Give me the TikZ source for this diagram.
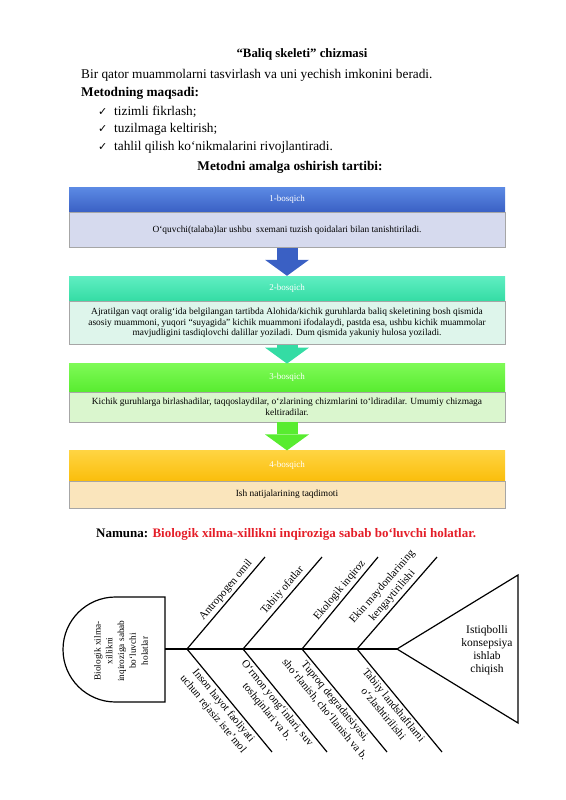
\documentclass[tikz,border=0pt]{standalone}
\usepackage{fontspec}
\setmainfont{Liberation Serif}
\newfontfamily\symfont{DejaVu Sans}
\usepackage{xcolor}
\definecolor{blueA}{RGB}{92,138,228}
\definecolor{blueB}{RGB}{58,96,196}
\definecolor{blueC}{RGB}{214,218,238}
\definecolor{tealA}{RGB}{96,238,194}
\definecolor{tealB}{RGB}{52,220,164}
\definecolor{tealC}{RGB}{222,245,235}
\definecolor{greenA}{RGB}{126,250,86}
\definecolor{greenB}{RGB}{88,236,48}
\definecolor{greenC}{RGB}{218,246,206}
\definecolor{goldA}{RGB}{255,212,66}
\definecolor{goldB}{RGB}{250,190,12}
\definecolor{goldC}{RGB}{250,229,188}
\definecolor{samplered}{RGB}{228,30,40}
\usepackage{tikz}
\usetikzlibrary{positioning}
\usetikzlibrary{arrows.meta}
\tikzset{head node/.style={rectangle,minimum width=436pt,inner sep=0pt,text=white,font=\fontsize{9}{10}\selectfont},
  body node/.style={rectangle,draw=gray!70,minimum width=436pt,inner sep=0pt,align=center,font=\fontsize{9.4}{10.8}\selectfont},}

\begin{document}
\begin{tikzpicture}[x=1pt,y=-1pt,
    step arrow/.style={line width=21pt,-{Triangle[width=44pt 0,length=16pt 0,line width=0pt 0 0]}},
    bone/.style={line width=1.2pt,line join=miter},
    bone label/.style={font=\fontsize{11}{13.4}\selectfont,align=center,sloped,inner sep=2.5pt},
    list item/.style={anchor=west,inner sep=0pt,font=\fontsize{13.3}{15}\selectfont}]
    \useasboundingbox (0,0) rectangle (565,800);

    % matn qismi
    \node[font=\bfseries\fontsize{12.8}{14}\selectfont] (title) at (302,54) {“Baliq skeleti” chizmasi};
    \node[list item] (intro) at (81,75) {Bir qator muammolarni tasvirlash va uni yechish imkonini beradi.};
    \node[list item,font=\bfseries\fontsize{13.3}{15}\selectfont] (aim) at (81,93) {Metodning maqsadi:};
    \node[list item,font=\symfont\fontsize{11}{12}\selectfont] (tick1) at (98,112) {✓};
    \node[list item] (item1) at (114,112) {tizimli fikrlash;};
    \node[list item,font=\symfont\fontsize{11}{12}\selectfont] (tick2) at (98,129) {✓};
    \node[list item] (item2) at (114,129) {tuzilmaga keltirish;};
    \node[list item,font=\symfont\fontsize{11}{12}\selectfont] (tick3) at (98,147) {✓};
    \node[list item] (item3) at (114,147) {tahlil qilish ko‘nikmalarini rivojlantiradi.};
    \node[font=\bfseries\fontsize{13.3}{15}\selectfont] (order) at (290,167) {Metodni amalga oshirish tartibi:};

    % bosqichlar
    \node[head node,anchor=north,minimum height=25pt,top color=blueA,bottom color=blueB] (h1) at (287,187) {1-bosqich};
    \node[body node,minimum height=35pt,fill=blueC] (b1) [below=0pt of h1] {O‘quvchi(talaba)lar ushbu\ \ sxemani tuzish qoidalari bilan tanishtiriladi.};
    \node[head node,minimum height=25pt,top color=tealA,bottom color=tealB] (h2) [below=28pt of b1] {2-bosqich};
    \node[body node,minimum height=43pt,fill=tealC] (b2) [below=0pt of h2] {Ajratilgan vaqt oralig‘ida belgilangan tartibda Alohida/kichik guruhlarda baliq skeletining bosh qismida\\
      asosiy muammoni, yuqori “suyagida” kichik muammoni ifodalaydi, pastda esa, ushbu kichik muammolar\\
      mavjudligini tasdiqlovchi dalillar yoziladi. Dum qismida yakuniy hulosa yoziladi.};
    \node[head node,minimum height=28pt,top color=greenA,bottom color=greenB] (h3) [below=19pt of b2] {3-bosqich};
    \node[body node,minimum height=30pt,fill=greenC] (b3) [below=0pt of h3] {Kichik guruhlarga birlashadilar, taqqoslaydilar, o‘zlarining chizmlarini to‘ldiradilar. Umumiy chizmaga\\ keltiradilar.};
    \node[head node,minimum height=30pt,top color=goldA,bottom color=goldB] (h4) [below=28pt of b3] {4-bosqich};
    \node[body node,minimum height=27pt,fill=goldC] (b4) [below=0pt of h4] {Ish natijalarining taqdimoti};

    \draw[step arrow,blueB] (b1.south) -- (h2.north);
    \draw[step arrow,tealB] (b2.south) -- (h3.north);
    \draw[step arrow,greenB] (b3.south) -- (h4.north);

    \node[list item,font=\bfseries\fontsize{13}{15}\selectfont] (sample) at (96,534) {Namuna: \textcolor{samplered}{Biologik xilma-xillikni inqiroziga sabab bo‘luvchi holatlar.}};

    % baliq skeleti
    \coordinate (neck) at (165,649);
    \coordinate (tail) at (397,649);
    \coordinate (finA) at (518,575);
    \coordinate (finB) at (518,723);
    \draw[bone] (165,597) -- (115.5,597) arc[start angle=270,end angle=90,radius=52.5] -- (165,702) -- cycle;
    \node[rotate=90,align=center,font=\fontsize{9.3}{11.8}\selectfont] (cause) at (121,651) {Biologik xilma-\\xillikni\\inqiroziga sabab\\bo‘luvchi\\holatlar};
    \draw[bone] (neck) -- (tail);
    \draw[bone] (tail) -- (finA) -- (finB) -- cycle;
    \node[align=center,font=\fontsize{11.5}{13}\selectfont] (goal) at (487,650) {Istiqbolli\\konsepsiya\\ishlab\\chiqish};

    \coordinate (s1) at (187,649);
    \coordinate (s2) at (243,649);
    \coordinate (s3) at (302,649);
    \coordinate (s4) at (357,649);
    \coordinate (u1) at (265,557);
    \coordinate (u2) at (322,557);
    \coordinate (u3) at (378,557);
    \coordinate (u4) at (437,557);
    \coordinate (d1) at (272,752);
    \coordinate (d2) at (327,752);
    \coordinate (d3) at (387,752);
    \coordinate (d4) at (442,752);

    \draw[bone] (s1) -- node[bone label,above,pos=0.58] {Antropogen omil} (u1);
    \draw[bone] (s2) -- node[bone label,above,pos=0.58] {Tabiiy ofatlar} (u2);
    \draw[bone] (s3) -- node[bone label,above,pos=0.58] {Ekologik inqiroz} (u3);
    \draw[bone] (s4) -- node[bone label,above,pos=0.52] {Ekin maydonlarining\\kengaytirilishi} (u4);
    \draw[bone] (s1) -- node[bone label,below,pos=0.5] {Inson hayot faoliyati\\uchun rejasiz iste’mol} (d1);
    \draw[bone] (s2) -- node[bone label,below,pos=0.48] {O‘rmon yong‘inlari, suv\\toshqinlari va b.} (d2);
    \draw[bone] (s3) -- node[bone label,below,pos=0.46] {Tuproq degradatsiyasi,\\sho‘rlanish, cho‘llanish va b.} (d3);
    \draw[bone] (s4) -- node[bone label,below,pos=0.5] {Tabiiy landshaftlarni\\o‘zlashtirilishi} (d4);
\end{tikzpicture}
\end{document}
